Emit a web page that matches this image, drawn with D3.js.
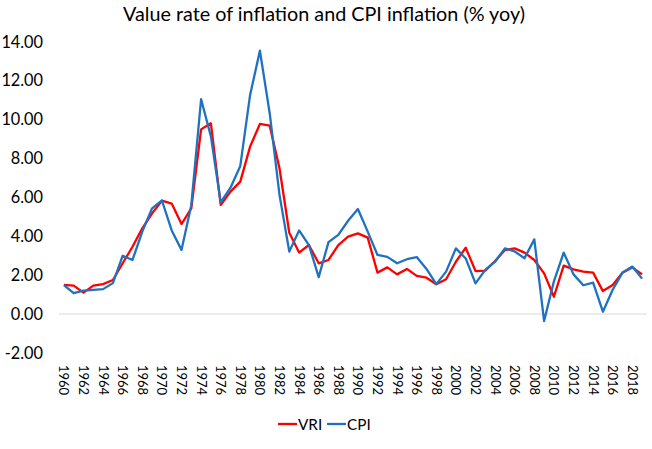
<!DOCTYPE html>
<html lang="en">
<head>
  <meta charset="UTF-8">
  <title>Value rate of inflation and CPI inflation</title>
  <script src="https://d3js.org/d3.v7.min.js"></script>
  <style>
    body { margin: 0; background: #fff; }
    text { font-family: Lato, "Noto Sans", sans-serif; fill: #000; }
  </style>
</head>
<body>
<script>
  // data
  var years = d3.range(1960, 2020)
  var yTicks = [-2, 0, 2, 4, 6, 8, 10, 12, 14]
  var vri = [1.50, 1.46, 1.10, 1.46, 1.54, 1.75, 2.61, 3.46, 4.41, 5.18,
             5.83, 5.68, 4.63, 5.44, 9.50, 9.81, 5.61, 6.30, 6.81, 8.61,
             9.78, 9.69, 7.50, 4.18, 3.16, 3.55, 2.61, 2.78, 3.55, 3.98,
             4.15, 3.93, 2.13, 2.40, 2.04, 2.32, 1.96, 1.87, 1.53, 1.79,
             2.69, 3.41, 2.21, 2.23, 2.73, 3.29, 3.38, 3.16, 2.78, 2.09,
             0.89, 2.49, 2.30, 2.18, 2.13, 1.18, 1.49, 2.13, 2.40, 2.04]
  var cpi = [1.49, 1.07, 1.20, 1.24, 1.28, 1.59, 3.00, 2.78, 4.24, 5.44,
             5.84, 4.30, 3.30, 5.60, 11.05, 9.14, 5.74, 6.50, 7.62, 11.27,
             13.55, 10.33, 6.13, 3.21, 4.30, 3.55, 1.90, 3.70, 4.07, 4.80,
             5.40, 4.24, 3.04, 2.94, 2.61, 2.82, 2.93, 2.32, 1.54, 2.18,
             3.38, 2.86, 1.58, 2.27, 2.69, 3.38, 3.22, 2.87, 3.84, -0.36,
             1.68, 3.16, 2.04, 1.48, 1.61, 0.12, 1.25, 2.13, 2.44, 1.82]
  var series = [
    {name: 'VRI', values: vri, color: '#ff0000'},
    {name: 'CPI', values: cpi, color: '#1f72c0'}
  ]

  var width = 652
  var height = 449
  var svg = d3.select('body').append('svg').attr('width', width).attr('height', height)

  var x = d3.scaleBand().domain(years).range([59, 647])
  var y = d3.scaleLinear().domain([-2, 14]).range([352.9, 41.9])
  var cx = function (yr) { return x(yr) + x.bandwidth() / 2 }

  // title, stretched to the width seen in the picture
  var title = svg.append('text')
    .attr('x', 324).attr('y', 21)
    .attr('text-anchor', 'middle')
    .style('font-size', '20px')
    .text('Value rate of inflation and CPI inflation (% yoy)')
  var tw = title.node().getComputedTextLength()
  title.style('font-size', (20 * 402 / tw) + 'px')

  // y axis labels only
  var yAxis = d3.axisLeft(y).tickValues(yTicks).tickSize(0).tickPadding(0)
    .tickFormat(function (d) { return d.toFixed(2) })
  var gy = svg.append('g').attr('transform', 'translate(43,0)').call(yAxis)
  gy.select('.domain').remove()
  gy.selectAll('text').style('font-size', '16.3px').attr('font-family', null)

  // horizontal axis line at zero
  svg.append('line')
    .attr('x1', x.range()[0]).attr('x2', x.range()[1])
    .attr('y1', y(0)).attr('y2', y(0))
    .attr('stroke', '#d9d9d9').attr('stroke-width', 1)

  // year labels, every second year, turned clockwise
  var xAxis = d3.axisBottom(x).tickValues(years.filter(function (d) { return d % 2 === 0 }))
    .tickSize(0)
  var gx = svg.append('g').attr('transform', 'translate(0,360)').call(xAxis)
  gx.select('.domain').remove()
  gx.selectAll('text')
    .attr('font-family', null)
    .style('font-size', '13px')
    .attr('transform', 'rotate(90)')
    .attr('x', 5).attr('y', 0).attr('dy', '0.35em')
    .style('text-anchor', 'start')

  // lines
  var line = d3.line()
    .x(function (d, i) { return cx(years[i]) })
    .y(function (d) { return y(d) })
  svg.selectAll('path.series').data(series).enter().append('path')
    .attr('class', 'series')
    .attr('fill', 'none')
    .attr('stroke', function (d) { return d.color })
    .attr('stroke-width', 2.3)
    .attr('stroke-linejoin', 'round')
    .attr('d', function (d) { return line(d.values) })

  // legend
  var legX = [278, 327]
  var leg = svg.selectAll('g.leg').data(series).enter().append('g')
    .attr('class', 'leg')
    .attr('transform', function (d, i) { return 'translate(' + legX[i] + ',424)' })
  leg.append('line').attr('x1', 0).attr('x2', 19).attr('y1', 0).attr('y2', 0)
    .attr('stroke', function (d) { return d.color }).attr('stroke-width', 2.3)
  leg.append('text').attr('x', 20).attr('y', 5.5)
    .style('font-size', '15.3px')
    .text(function (d) { return d.name })
</script>
</body>
</html>
